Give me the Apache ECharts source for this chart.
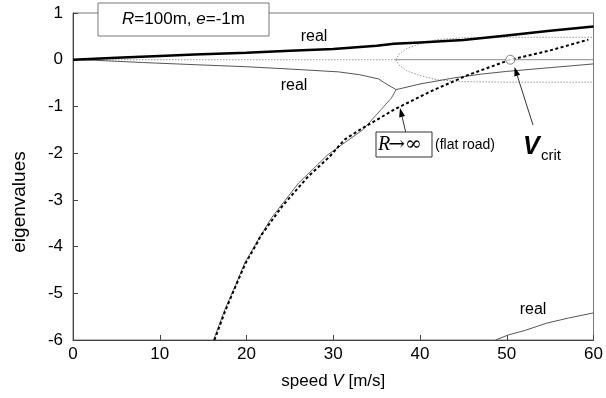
<!DOCTYPE html>
<html>
<head>
<meta charset="utf-8">
<script src="https://cdn.jsdelivr.net/npm/echarts@6/dist/echarts.min.js"></script>
<style>html,body{margin:0;padding:0;background:#fff}#c{width:606px;height:398px}</style>
</head>
<body>
<div id="c"></div>
<script>
// ---- data (speed V [m/s], eigenvalue) ----
const xTicks = [0, 10, 20, 30, 40, 50, 60];
const yTicks = [-6, -5, -4, -3, -2, -1, 0, 1];
const thickReal = [[0,0],[5,0.04],[10,0.08],[14,0.11],[20,0.15],[25,0.19],[30,0.23],[35,0.3],[37,0.34],[40,0.37],[45,0.42],[50,0.52],[55,0.62],[60,0.71]];
const thinRealTop = [[0,0],[2.3,-0.01],[8,-0.06],[14.5,-0.11],[20,-0.15],[25,-0.2],[30.6,-0.26],[33,-0.32],[35.2,-0.41],[36.3,-0.54],[37.25,-0.64]];
const thinRealRight = [[37.25,-0.64],[40,-0.52],[43.9,-0.39],[47,-0.31],[50,-0.25],[55,-0.17],[60,-0.09]];
const thinRealDown = [[37.25,-0.64],[36.7,-0.82],[35.5,-1.07],[33.4,-1.5],[29.4,-2.03],[26,-2.64],[22.9,-3.38],[21.2,-3.9],[19.8,-4.35],[18.8,-4.8],[17.5,-5.35],[16.2,-6]];
const flatRoad = [[16.3,-6],[17.6,-5.35],[18.9,-4.78],[19.9,-4.35],[21.2,-3.93],[21.6,-3.78],[24.1,-3.14],[27.1,-2.5],[29.6,-2.07],[31.3,-1.71],[33.4,-1.46],[37.2,-1.05],[41.2,-0.68],[45.5,-0.33],[50.4,0],[55,0.2],[59.4,0.43]];
const imagZero = [[0,0],[37.2,0]];
const imagUpper = [[37.2,0],[37.6,0.12],[38.5,0.24],[40,0.34],[42,0.43],[45,0.47],[50,0.48],[60,0.48]];
const imagLower = [[37.2,0],[37.6,-0.12],[38.5,-0.24],[40,-0.34],[42,-0.43],[45,-0.47],[50,-0.48],[60,-0.48]];
const realZeroAfter = [[37.2,0],[60,0]];
const bottomReal = [[48.7,-6],[50.2,-5.89],[52,-5.8],[54.6,-5.64],[57.1,-5.53],[60,-5.42]];
const vCrit = [[50.4,0]];

const FONT = '"Liberation Sans", Arial, Helvetica, sans-serif';
const SERIF = '"Liberation Serif", "Times New Roman", serif';
const chart = echarts.init(document.getElementById('c'), null, {renderer:'canvas'});

function line(data, color, width, type, z) {
  return {type:'line', data:data, showSymbol:false, symbol:'none', silent:true, animation:false,
    lineStyle:{color:color, width:width, type:type||'solid'}, z:z||2, clip:true};
}

function arrow(x1, y1, x2, y2) {
  const dx = x2 - x1, dy = y2 - y1, L = Math.hypot(dx, dy);
  const ux = dx / L, uy = dy / L, len = 9, hw = 3;
  const bx = x2 - len * ux, by = y2 - len * uy;
  return [
    {type:'line', z:100, shape:{x1:x1, y1:y1, x2:bx, y2:by}, style:{stroke:'#333', lineWidth:1}},
    {type:'polygon', z:100, shape:{points:[[x2,y2],[bx - uy*hw, by + ux*hw],[bx + uy*hw, by - ux*hw]]}, style:{fill:'#000'}}
  ];
}

const option = {
  backgroundColor:'#fff',
  animation:false,
  grid:{left:73, right:9, top:13, bottom:58, show:true, borderColor:'#777', borderWidth:1},
  xAxis:{type:'value', min:0, max:60, interval:10,
    name:'speed {i|V} [m/s]', nameLocation:'middle', nameGap:33,
    nameTextStyle:{fontFamily:FONT, fontSize:17, color:'#000', rich:{i:{fontStyle:'italic', fontFamily:FONT, fontSize:17, color:'#000'}}},
    axisLine:{show:true, onZero:false, lineStyle:{color:'#444', width:1}},
    axisTick:{show:true, inside:true, length:5, lineStyle:{color:'#444'}},
    axisLabel:{fontFamily:FONT, fontSize:17, color:'#000', margin:6},
    splitLine:{show:false}},
  yAxis:{type:'value', min:-6, max:1, interval:1,
    axisLine:{show:true, onZero:false, lineStyle:{color:'#444', width:1}},
    axisTick:{show:true, inside:true, length:5, lineStyle:{color:'#444'}},
    axisLabel:{fontFamily:FONT, fontSize:17, color:'#000', margin:10, padding:[5,0,0,0]},
    splitLine:{show:false}},
  series:[
    line(imagZero, '#999', 1, [1.5,1.5], 2),
    line(imagUpper, '#999', 1, [1.5,1.5], 2),
    line(imagLower, '#999', 1, [1.5,1.5], 2),
    line(realZeroAfter, '#888', 1, 'solid', 2),
    line(thinRealTop, '#555', 1, 'solid', 3),
    line(thinRealRight, '#555', 1, 'solid', 3),
    line(thinRealDown, '#666', 1, 'solid', 3),
    line(bottomReal, '#555', 1, 'solid', 3),
    line(thickReal, '#000', 2.5, 'solid', 4),
    line(flatRoad, '#000', 2, [3,2.5], 5),
    {type:'scatter', data:vCrit, symbol:'circle', symbolSize:9, silent:true, z:6,
      itemStyle:{color:'#fff', borderColor:'#666', borderWidth:1}}
  ]
};
chart.setOption(option);

const g = [
  {type:'text', z:101, x:20, y:202, rotation:Math.PI/2, style:{text:'eigenvalues', align:'center', verticalAlign:'middle', font:'19px ' + FONT, fill:'#000'}},
  {type:'rect', z:100, shape:{x:98, y:3, width:171, height:33}, style:{fill:'#fff', stroke:'#777', lineWidth:1}},
  {type:'text', z:101, x:183.5, y:19.5, style:{text:'{i|R}=100m, {i|e}=-1m', align:'center', verticalAlign:'middle',
    font:'17px ' + FONT, fill:'#000', rich:{i:{fontStyle:'italic', fontFamily:FONT, fontSize:17, fill:'#000'}}}},
  {type:'text', z:101, x:314, y:37, style:{text:'real', align:'center', verticalAlign:'middle', font:'16px ' + FONT, fill:'#000'}},
  {type:'text', z:101, x:294, y:86, style:{text:'real', align:'center', verticalAlign:'middle', font:'16px ' + FONT, fill:'#000'}},
  {type:'text', z:101, x:533, y:310, style:{text:'real', align:'center', verticalAlign:'middle', font:'16px ' + FONT, fill:'#000'}},
  {type:'rect', z:100, shape:{x:376, y:132, width:56, height:25}, style:{fill:'#fff', stroke:'#333', lineWidth:1}},
  {type:'text', z:101, x:378, y:145, style:{text:'{i|R}', align:'left', verticalAlign:'middle',
    font:'italic 20px ' + SERIF, fill:'#000', rich:{i:{fontStyle:'italic', fontFamily:SERIF, fontSize:20, fill:'#000'}}}},
  {type:'text', z:101, x:405, y:145, style:{text:'→∞', align:'center', verticalAlign:'middle',
    font:'20px "DejaVu Serif", ' + SERIF, fill:'#000'}},
  {type:'text', z:101, x:435, y:145, style:{text:'(flat road)', align:'left', verticalAlign:'middle', font:'14px ' + FONT, fill:'#000'}},
  {type:'text', z:101, x:523, y:147, style:{text:'V', align:'left', verticalAlign:'middle', font:'italic bold 25px ' + FONT, fill:'#000'}},
  {type:'text', z:101, x:541, y:156, style:{text:'crit', align:'left', verticalAlign:'middle', font:'15px ' + FONT, fill:'#000'}}
].concat(arrow(405.7, 132, 400, 108)).concat(arrow(533, 125, 514.5, 67));

chart.setOption({graphic:{elements:g}});
</script>
</body>
</html>
